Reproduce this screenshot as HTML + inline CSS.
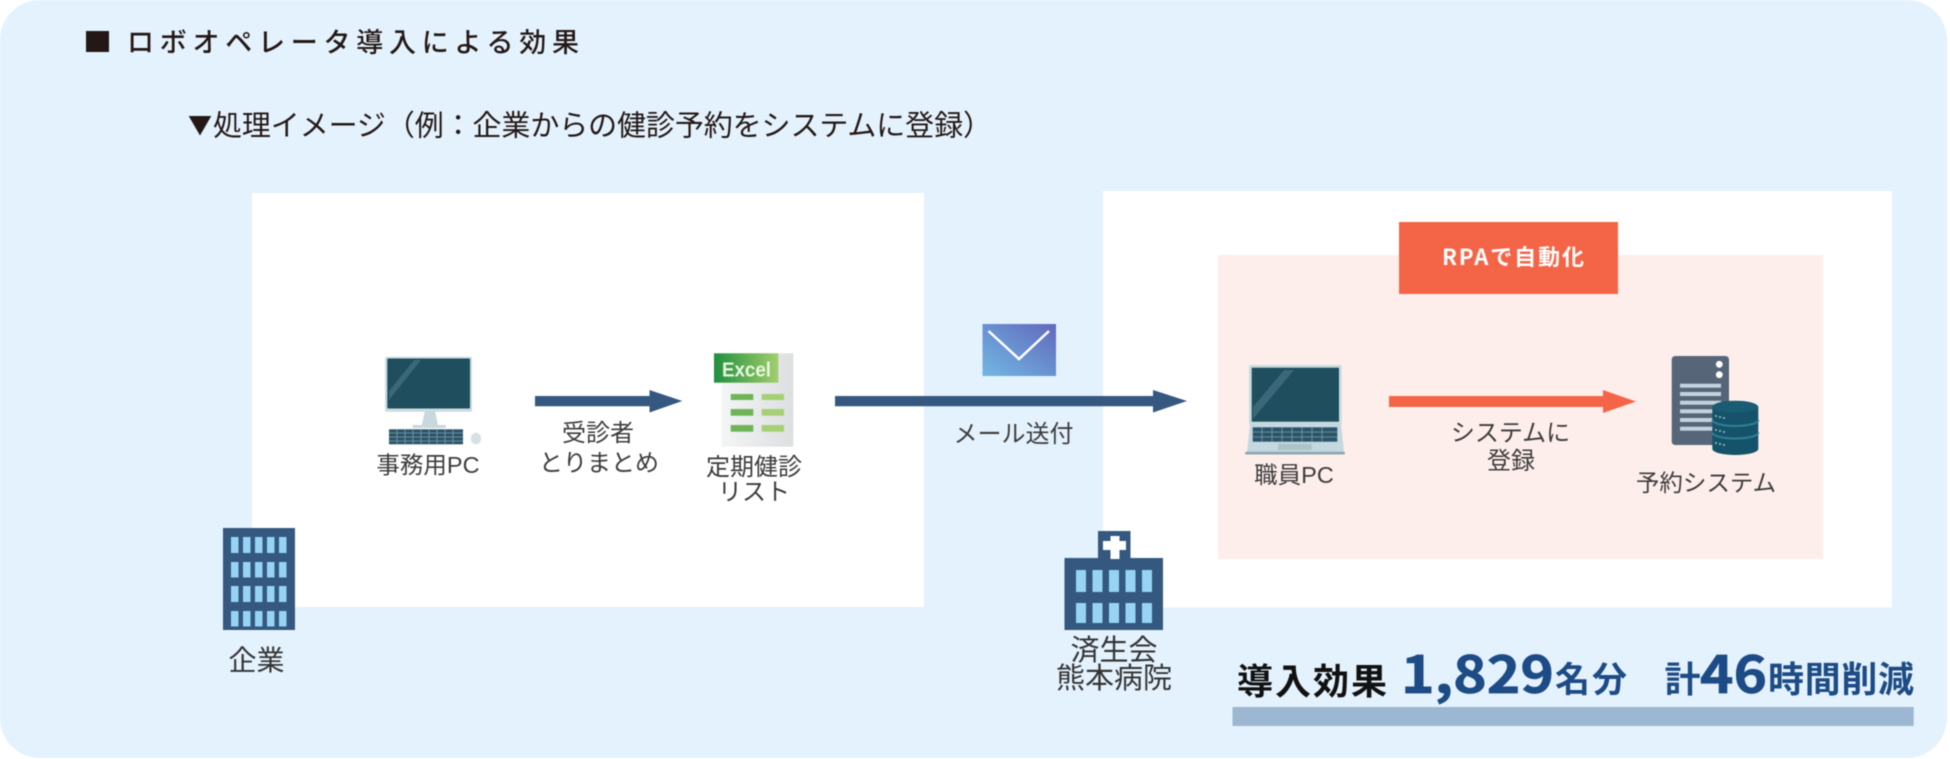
<!DOCTYPE html>
<html lang="ja">
<head>
<meta charset="utf-8">
<title>ロボオペレータ導入による効果</title>
<style>
html,body{margin:0;padding:0;background:#fff;width:1950px;height:759px;overflow:hidden}
svg{display:block;filter:blur(0.4px)}
text{font-family:"Liberation Sans","Noto Sans CJK JP",sans-serif}
.cjk{font-family:"Noto Sans CJK JP","Liberation Sans",sans-serif}
.l{font-size:24px;fill:#3c3c3c;text-anchor:middle}
.p{font-size:23.5px;fill:#3c3c3c;text-anchor:middle}
.b{font-family:"Noto Sans CJK JP","Liberation Sans",sans-serif;font-weight:700}
.n{stroke:#1d4b85;stroke-width:0.7px}
</style>
</head>
<body>
<svg width="1950" height="759" viewBox="0 0 1950 759" xmlns="http://www.w3.org/2000/svg">
<defs>
<linearGradient id="mail" x1="0" y1="1" x2="1" y2="0">
<stop offset="0" stop-color="#72b8e2"/><stop offset="1" stop-color="#6168bd"/>
</linearGradient>
<linearGradient id="xh" x1="0" y1="0" x2="1" y2="0">
<stop offset="0" stop-color="#1f8f3e"/><stop offset="1" stop-color="#a3cf6c"/>
</linearGradient>
<linearGradient id="xs" x1="0" y1="0" x2="1" y2="0">
<stop offset="0" stop-color="#f4f5f5"/><stop offset="1" stop-color="#dcdee0"/>
</linearGradient>
</defs>

<!-- Background -->
<rect x="0" y="0" width="1947" height="758" rx="40" ry="40" fill="#e4f2fd"/>

<!-- Title -->
<rect x="86" y="31" width="23" height="21" fill="#231815"/>
<text class="cjk" x="127" y="52" font-size="27" font-weight="500" fill="#231815" textLength="452">ロボオペレータ導入による効果</text>
<text class="cjk" x="188" y="134" font-size="24" fill="#231815">▼</text>
<text class="cjk" x="213" y="135.500" font-size="29" fill="#231815" textLength="779">処理イメージ（例：企業からの健診予約をシステムに登録）</text>

<!-- White panels -->
<rect x="252" y="193" width="672" height="414" fill="#fff"/>
<rect x="1103" y="191" width="789" height="416.500" fill="#fff"/>
<rect x="1218" y="255" width="605" height="304" fill="#feeeeb"/>
<rect x="1399" y="222" width="219" height="72" fill="#f46548"/>
<text class="b" x="1442" y="265" font-size="22" fill="#fff" textLength="142">RPAで自動化</text>

<!-- Desktop PC -->
<rect x="385" y="356.700" width="87" height="55" rx="2" fill="#c9dbe0"/>
<rect x="387.300" y="358.500" width="82.700" height="50" rx="1" fill="#1f4e5f"/>
<polygon points="389,391 414,360 421,360 389,400" fill="#3b6878"/>
<polygon points="425,411 435,411 438,425 421.700,425" fill="#c9d8dc"/>
<rect x="412.300" y="425" width="33.700" height="3" rx="1.500" fill="#c9d8dc"/>
<rect x="389" y="429.300" width="74" height="15" fill="#2a5568"/>
<g stroke="#7f9cab" stroke-width="0.8">
<line x1="389" y1="433" x2="463" y2="433"/><line x1="389" y1="437" x2="463" y2="437"/><line x1="389" y1="441" x2="463" y2="441"/>
<line x1="397" y1="429.300" x2="397" y2="444"/><line x1="405" y1="429.300" x2="405" y2="444"/><line x1="413" y1="429.300" x2="413" y2="444"/><line x1="421" y1="429.300" x2="421" y2="444"/><line x1="429" y1="429.300" x2="429" y2="444"/><line x1="437" y1="429.300" x2="437" y2="444"/><line x1="445" y1="429.300" x2="445" y2="444"/><line x1="453" y1="429.300" x2="453" y2="444"/>
</g>
<ellipse cx="476" cy="438.500" rx="5.200" ry="5.800" fill="#d6e1e5"/>
<text class="p" x="428" y="473">事務用PC</text>

<!-- Arrow 1 -->
<polygon points="535,396 649.500,396 649.500,390 682.300,401 649.500,412.500 649.500,406.300 535,406.300" fill="#34587f"/>
<text class="l" x="598" y="441">受診者</text>
<text class="l" x="599" y="471">とりまとめ</text>

<!-- Excel -->
<rect x="721.700" y="353.300" width="71.600" height="93.400" fill="url(#xs)"/>
<rect x="714" y="353.300" width="64.300" height="29.400" fill="url(#xh)"/>
<text x="722" y="376.500" font-size="20" font-weight="700" fill="#e8f5df" textLength="49" lengthAdjust="spacingAndGlyphs" style="font-family:'Liberation Sans',sans-serif">Excel</text>
<g fill="#6fb558">
<rect x="730.700" y="394" width="22.600" height="6"/><rect x="730.700" y="409" width="22.600" height="6.700"/><rect x="730.700" y="425" width="22.600" height="6.700"/>
</g>
<g fill="#a6d076">
<rect x="761.700" y="394" width="22.300" height="6"/><rect x="761.700" y="409" width="22.300" height="6.700"/><rect x="761.700" y="425" width="22.300" height="6.700"/>
</g>
<text class="l" x="754" y="475">定期健診</text>
<text class="l" x="754" y="500">リスト</text>

<!-- Company building -->
<rect x="223" y="528" width="72" height="102" fill="#34587f"/>
<g fill="#96d3f5">
<rect x="231" y="537" width="7.500" height="16"/><rect x="243" y="537" width="7.500" height="16"/><rect x="255" y="537" width="7.500" height="16"/><rect x="267" y="537" width="7.500" height="16"/><rect x="279" y="537" width="7.500" height="16"/>
<rect x="231" y="562" width="7.500" height="15.500"/><rect x="243" y="562" width="7.500" height="15.500"/><rect x="255" y="562" width="7.500" height="15.500"/><rect x="267" y="562" width="7.500" height="15.500"/><rect x="279" y="562" width="7.500" height="15.500"/>
<rect x="231" y="586" width="7.500" height="16"/><rect x="243" y="586" width="7.500" height="16"/><rect x="255" y="586" width="7.500" height="16"/><rect x="267" y="586" width="7.500" height="16"/><rect x="279" y="586" width="7.500" height="16"/>
<rect x="231" y="611" width="7.500" height="15.500"/><rect x="243" y="611" width="7.500" height="15.500"/><rect x="255" y="611" width="7.500" height="15.500"/><rect x="267" y="611" width="7.500" height="15.500"/><rect x="279" y="611" width="7.500" height="15.500"/>
</g>
<text x="256.500" y="670" font-size="28" fill="#333" text-anchor="middle">企業</text>

<!-- Mail -->
<rect x="982.500" y="324" width="73.500" height="52" fill="url(#mail)"/>
<polyline points="988.500,331 1019,359 1049,331" fill="none" stroke="#fff" stroke-width="2.500"/>

<!-- Arrow 2 -->
<polygon points="835,396 1153,396 1153,390 1187,401 1153,412.500 1153,406.300 835,406.300" fill="#34587f"/>
<text class="l" x="1013.500" y="442">メール送付</text>

<!-- Laptop -->
<rect x="1249" y="365" width="92.700" height="60" rx="2" fill="#c9dbe0"/>
<rect x="1251.700" y="367.700" width="87.300" height="54" fill="#1f4e5f"/>
<polygon points="1253,407 1284,370 1294,370 1253,419" fill="#3b6878"/>
<polygon points="1250,424 1341,424 1344,452 1247,452" fill="#c3d8e0"/>
<rect x="1252.700" y="427.300" width="84.600" height="14.400" fill="#2a5568"/>
<g stroke="#7f9cab" stroke-width="0.8">
<line x1="1252.700" y1="432" x2="1337.300" y2="432"/><line x1="1252.700" y1="437" x2="1337.300" y2="437"/>
<line x1="1262" y1="427.300" x2="1262" y2="441.700"/><line x1="1272" y1="427.300" x2="1272" y2="441.700"/><line x1="1282" y1="427.300" x2="1282" y2="441.700"/><line x1="1292" y1="427.300" x2="1292" y2="441.700"/><line x1="1302" y1="427.300" x2="1302" y2="441.700"/><line x1="1312" y1="427.300" x2="1312" y2="441.700"/><line x1="1322" y1="427.300" x2="1322" y2="441.700"/>
</g>
<rect x="1278" y="444" width="33.700" height="6" fill="#aec2ca"/>
<rect x="1245" y="451.700" width="100" height="2.800" rx="1.400" fill="#8fa8b2"/>
<text class="p" x="1294" y="483">職員PC</text>

<!-- Hospital -->
<rect x="1098" y="531" width="32.500" height="28" fill="#34587f"/>
<rect x="1064.500" y="558" width="98.500" height="72" fill="#34587f"/>
<polygon points="1110.500,536 1119.500,536 1119.500,541 1126,541 1126,550 1119.500,550 1119.500,559 1110.500,559 1110.500,550 1103,550 1103,541 1110.500,541" fill="#fff"/>
<g fill="#96d3f5">
<rect x="1076" y="570" width="10" height="22"/><rect x="1092.500" y="570" width="10" height="22"/><rect x="1109" y="570" width="10" height="22"/><rect x="1125.500" y="570" width="10" height="22"/><rect x="1142" y="570" width="10" height="22"/>
<rect x="1076" y="603" width="10" height="20"/><rect x="1092.500" y="603" width="10" height="20"/><rect x="1109" y="603" width="10" height="20"/><rect x="1125.500" y="603" width="10" height="20"/><rect x="1142" y="603" width="10" height="20"/>
</g>
<text x="1114" y="660" font-size="29" fill="#333" text-anchor="middle">済生会</text>
<text x="1114" y="688" font-size="29" fill="#333" text-anchor="middle">熊本病院</text>

<!-- Orange arrow -->
<polygon points="1389,396 1603,396 1603,390 1636,401.500 1603,413 1603,407 1389,407" fill="#f46548"/>
<text class="l" x="1510.500" y="441">システムに</text>
<text class="l" x="1511" y="469">登録</text>

<!-- Server -->
<rect x="1671.700" y="356" width="57.300" height="89" rx="3.500" fill="#566577"/>
<circle cx="1719.300" cy="364.300" r="3.400" fill="#fff"/>
<circle cx="1719.300" cy="374.700" r="3.400" fill="#fff"/>
<g fill="#c4d2de">
<rect x="1680" y="383.700" width="41" height="4"/><rect x="1680" y="392" width="41" height="4"/><rect x="1680" y="400.700" width="41" height="4"/><rect x="1680" y="409.300" width="41" height="4"/><rect x="1680" y="418" width="41" height="4"/><rect x="1680" y="426.700" width="41" height="4"/>
</g>
<!-- Database -->
<path d="M1712.300,407 a23,6.300 0 0 1 46,0 V449 a23,6 0 0 1 -46,0 Z" fill="#15536a"/>
<path d="M1712.300,420 a23,6 0 0 0 46,0" fill="none" stroke="#2f7f96" stroke-width="2"/>
<path d="M1712.300,432.500 a23,6 0 0 0 46,0" fill="none" stroke="#2f7f96" stroke-width="2"/>
<ellipse cx="1735.300" cy="407" rx="23" ry="5.500" fill="#1a5c73"/>
<g fill="#9cc0cc">
<circle cx="1716" cy="416" r="1"/><circle cx="1720" cy="417" r="1"/><circle cx="1724" cy="418" r="1"/>
<circle cx="1716" cy="430" r="1"/><circle cx="1720" cy="431" r="1"/><circle cx="1724" cy="432" r="1"/>
<circle cx="1716" cy="443" r="1"/><circle cx="1720" cy="444" r="1"/><circle cx="1724" cy="445" r="1"/>
</g>
<text class="p" x="1706" y="491">予約システム</text>

<!-- Result -->
<text class="b" x="1237" y="694" font-size="36" fill="#111" textLength="150">導入効果</text>
<text class="b n" x="1401" y="693" font-size="51" fill="#1d4b85" textLength="153" lengthAdjust="spacingAndGlyphs">1,829</text>
<text class="b" x="1555" y="692" font-size="35" fill="#1d4b85" textLength="72">名分</text>
<text class="b" x="1664.500" y="692" font-size="36" fill="#1d4b85">計</text>
<text class="b n" x="1700" y="693" font-size="51" fill="#1d4b85" textLength="67" lengthAdjust="spacingAndGlyphs">46</text>
<text class="b" x="1768" y="692" font-size="36" fill="#1d4b85" textLength="146">時間削減</text>
<rect x="1232.500" y="707" width="681.200" height="19" fill="#9db6d1"/>
</svg>
</body>
</html>
